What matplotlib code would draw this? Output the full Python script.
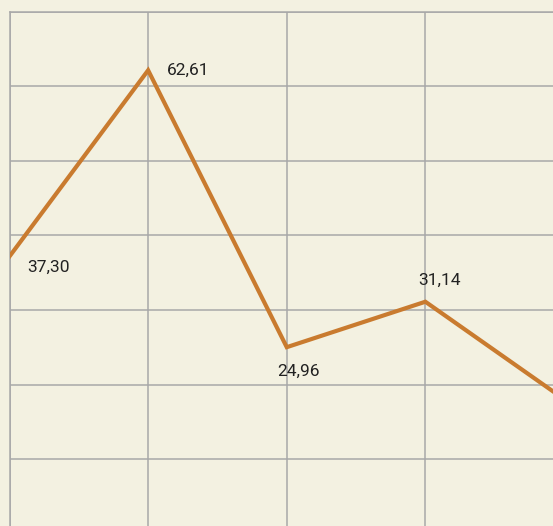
import matplotlib
matplotlib.use("Agg")
import matplotlib.pyplot as plt
import numpy as np

# Data
categories = ["A", "B", "C", "D", "E"]
values = [37.30, 62.61, 24.96, 31.14, 17.9]
labels = ["37,30", "62,61", "24,96", "31,14"]

# Label offsets in pixels (styling)
label_offsets = [(18, -11), (19, 0), (-10, -24), (-7, 21)]

plt.rcParams['font.family'] = ['Roboto', 'DejaVu Sans']

W, H = 553, 526
fig = plt.figure(figsize=(W / 100, H / 100), dpi=100)
bg = '#f3f1e1'
fig.patch.set_facecolor(bg)

left_px, top_px = 9.5, 11.5
right_px, bottom_px = 564.0, 533.7
ax = fig.add_axes([left_px / W, (H - bottom_px) / H,
                   (right_px - left_px) / W, (bottom_px - top_px) / H])
ax.set_facecolor(bg)

x = np.arange(len(values))
ylim = (-0.4, 70.6)
ax.set_xlim(0, len(values) - 1)
ax.set_ylim(*ylim)
ax.set_xticks(x)
ax.set_yticks(np.linspace(ylim[0], ylim[1], 8))
ax.tick_params(length=0, labelbottom=False, labelleft=False)
grid_color = '#a8a8a8'
ax.grid(True, color=grid_color, linewidth=1.1)
ax.set_axisbelow(True)
for s in ax.spines.values():
    s.set_color(grid_color)
    s.set_linewidth(1.1)

ax.plot(x, values, color='#c97b2f', linewidth=3.0, solid_joinstyle='miter',
        clip_on=True, zorder=3)

for xi, v, lab, off in zip(x, values, labels, label_offsets):
    ax.annotate(lab, (xi, v), xytext=off, textcoords='offset pixels',
                ha='left', va='center', fontsize=12.5, color='#222222',
                annotation_clip=False)

fig.savefig('out.png', dpi=100, facecolor=bg)
